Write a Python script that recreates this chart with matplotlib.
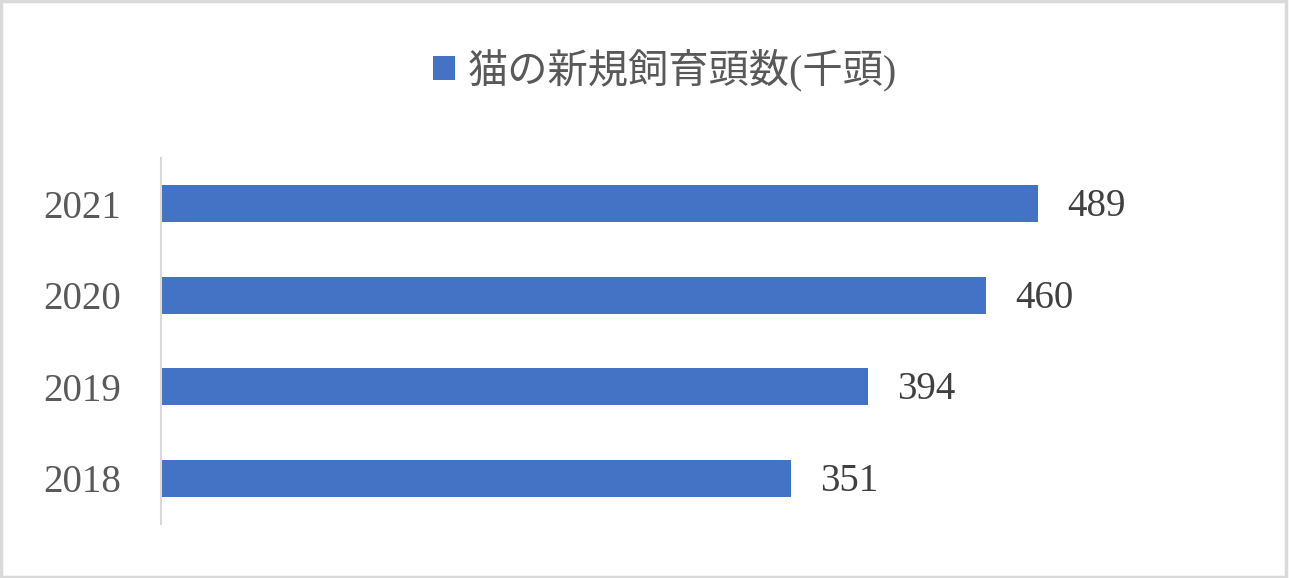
import matplotlib
matplotlib.use("Agg")
import matplotlib.pyplot as plt
from matplotlib.patches import Rectangle

years = ["2018", "2019", "2020", "2021"]
cats = [351, 394, 460, 489]
series_name = "猫の新規飼育頭数(千頭)"

plt.rcParams['font.family'] = ['Liberation Serif', 'Noto Sans CJK JP']

fig = plt.figure(figsize=(12.89, 5.78), dpi=100)
# axes box in pixels: left 161, right 1250, top 158, bottom 524
ax = fig.add_axes([161 / 1289, 1 - 524 / 578, (1250 - 161) / 1289, (524 - 158) / 578])

bars = ax.barh(years, cats, height=0.4, color="#4472C4", label=series_name)
ax.set_xlim(0, 1089 / (877 / 489))
ax.set_ylim(-0.5, 3.5)

# value labels, nudged down a little so the digits sit centred on the bars
for i, v in enumerate(cats):
    ax.annotate(str(v), xy=(v, i), xytext=(21, -2), textcoords="offset points",
                va="center", ha="left", fontsize=28, color="#404040")

for s in ["top", "right", "bottom"]:
    ax.spines[s].set_visible(False)
ax.spines["left"].set_color("#D9D9D9")
ax.spines["left"].set_linewidth(1.5)
ax.set_xticks([])
ax.tick_params(axis="y", length=0, pad=29, labelsize=28, labelcolor="#595959")

leg = fig.legend(loc="center", bbox_to_anchor=(665 / 1289, 1 - 70 / 578), frameon=False,
                 fontsize=29, handlelength=0.55, handleheight=0.55, handletextpad=0.3)
for t in leg.get_texts():
    t.set_color("#595959")

# outer chart border
fig.patches.append(Rectangle((0.001, 0.002), 0.997, 0.996, transform=fig.transFigure,
                             fill=False, edgecolor="#D9D9D9", linewidth=2.5))

fig.savefig("out.png", dpi=100, facecolor="white")
